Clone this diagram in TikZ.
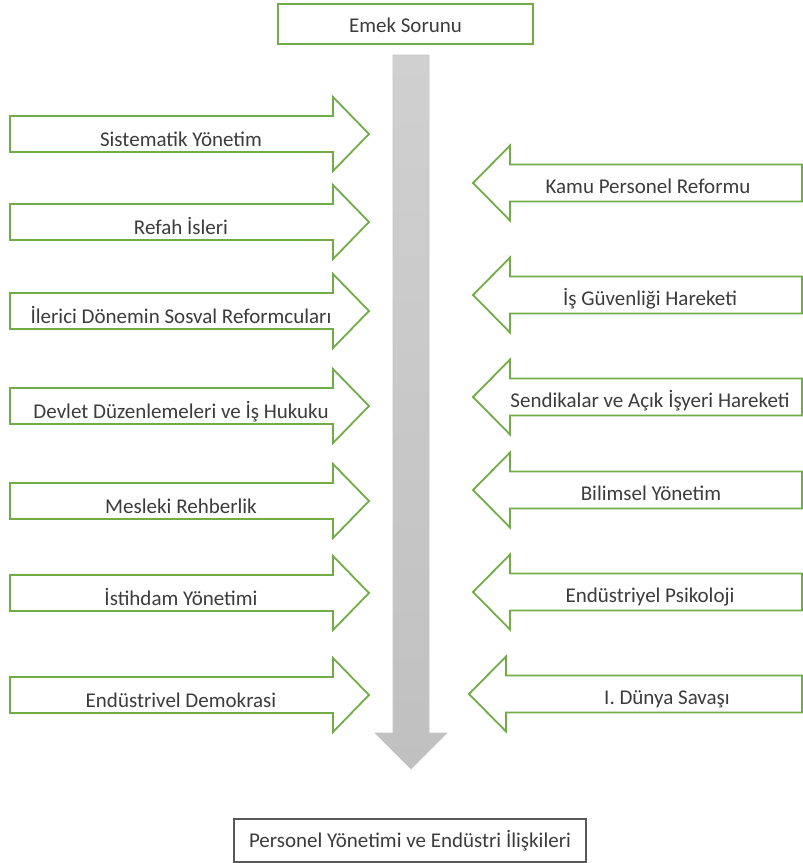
\documentclass[tikz,border=0pt]{standalone}
\usepackage{fontspec}
\setmainfont{Carlito}
\definecolor{grn}{RGB}{112,173,71}
\definecolor{txt}{RGB}{60,60,60}
\definecolor{boxline}{RGB}{89,89,89}
\definecolor{shtop}{RGB}{208,208,208}
\definecolor{shbot}{RGB}{192,192,192}
\tikzset{
  lbl/.style={font=\fontsize{21}{25}\selectfont, text=txt, anchor=base, inner sep=0pt},
  garrow/.style={draw=grn, line width=1.8pt, fill=white, line join=miter},
  topbox/.style={draw=grn, line width=1.8pt, font=\fontsize{21}{25}\selectfont, text=txt,
    inner sep=0pt, text height=16pt, text depth=0pt},
  botbox/.style={draw=boxline, line width=1.3pt, font=\fontsize{21}{25}\selectfont, text=txt,
    inner sep=0pt, text height=13pt, text depth=0pt}
}
\begin{document}
\begin{tikzpicture}[x=1pt,y=-1pt]
\useasboundingbox (0,0) rectangle (803,863);
% central gray arrow
\shadedraw[top color=shtop, bottom color=shbot, draw=gray!45, line width=0.6pt]
  (393,55) -- (429,55) -- (429,733) -- (447,733) -- (411,769) -- (375,733) -- (393,733) -- cycle;
% top and bottom boxes
\node[topbox, minimum width=255pt, minimum height=40pt] (emek) at (405.5,24) {Emek Sorunu};
\node[botbox, minimum width=352pt, minimum height=43pt] (pyei) at (410,840.5) {Personel Yönetimi ve Endüstri İlişkileri};
% left arrows
\foreach \t/\lab/\n in {134/Sistematik Yönetim/l1, 222/Refah İsleri/l2,
    311/İlerici Dönemin Sosval Reformcuları/l3, 406/Devlet Düzenlemeleri ve İş Hukuku/l4,
    501/Mesleki Rehberlik/l5, 593/İstihdam Yönetimi/l6, 695/Endüstrivel Demokrasi/l7}{
  \draw[garrow] (10,\t-18) -- (333,\t-18) -- (333,\t-37) -- (369,\t) -- (333,\t+37)
     -- (333,\t+18) -- (10,\t+18) -- cycle;
  \node[lbl] (\n) at (181,\t+12) {\lab};
}
% right arrows
\foreach \t/\tip/\cx/\lab/\n in {183/473/648/Kamu Personel Reformu/r1,
    295/473/650/İş Güvenliği Hareketi/r2, 397/473/650/Sendikalar ve Açık İşyeri Hareketi/r3,
    490/473/651/Bilimsel Yönetim/r4, 592/473/650/Endüstriyel Psikoloji/r5,
    694/469/667/I. Dünya Savaşı/r6}{
  \draw[garrow] (802,\t-18.5) -- (\tip+37,\t-18.5) -- (\tip+37,\t-37.5) -- (\tip,\t)
     -- (\tip+37,\t+37.5) -- (\tip+37,\t+18.5) -- (802,\t+18.5) -- cycle;
  \node[lbl] (\n) at (\cx,\t+10) {\lab};
}
\end{tikzpicture}
\end{document}
